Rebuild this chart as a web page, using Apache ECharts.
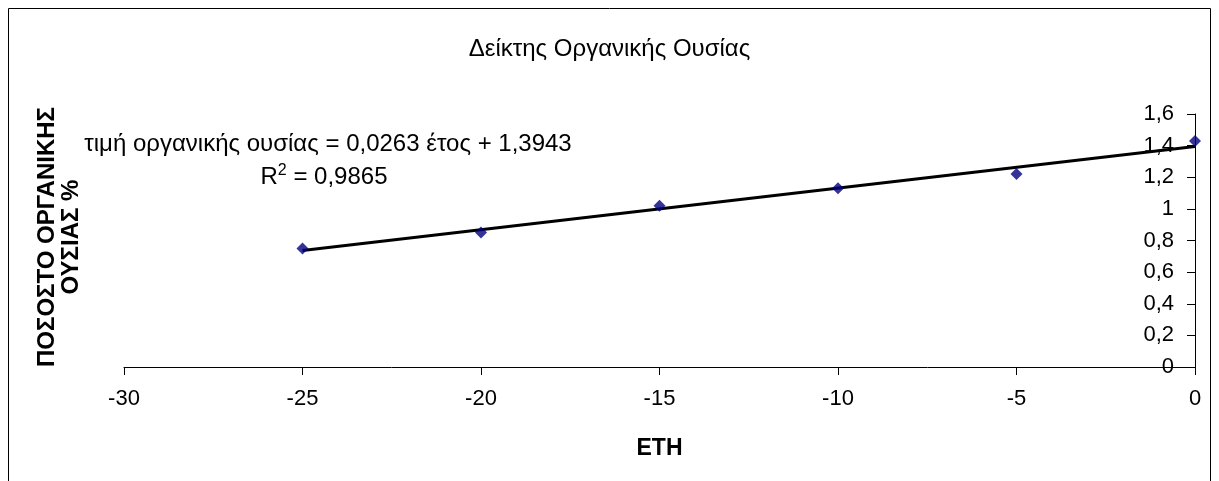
<!DOCTYPE html>
<html>
<head>
<meta charset="utf-8">
<script src="https://cdn.jsdelivr.net/npm/echarts@6/dist/echarts.min.js"></script>
<style>
html,body{margin:0;padding:0;background:#fff;}
#chart{width:1219px;height:481px;}
</style>
</head>
<body>
<div id="chart"></div>
<script>
// ---- data ----
const years = [-25, -20, -15, -10, -5, 0];
const organicValues = [0.75, 0.85, 1.02, 1.13, 1.22, 1.43];
const trendSlope = 0.0263;
const trendIntercept = 1.3943;
const trendRange = [-25, 0];
const titleText = 'Δείκτης Οργανικής Ουσίας';
const xAxisTitle = 'ΕΤΗ';
const yAxisTitleLines = ['ΠΟΣΟΣΤΟ ΟΡΓΑΝΙΚΗΣ', 'ΟΥΣΙΑΣ %'];
const equationText = 'τιμή οργανικής ουσίας = 0,0263 έτος + 1,3943';
const r2Value = '0,9865';

const FONT = '"Liberation Sans", Arial, sans-serif';
const chart = echarts.init(document.getElementById('chart'), null, {renderer: 'canvas'});

const scatterData = years.map((x, i) => [x, organicValues[i]]);
const trendData = trendRange.map(x => [x, trendSlope * x + trendIntercept]);

chart.setOption({
  backgroundColor: '#fff',
  animation: false,
  title: {
    text: titleText,
    left: 'center',
    top: 32,
    textStyle: {fontFamily: FONT, fontSize: 24, fontWeight: 'normal', color: '#000'}
  },
  grid: {left: 124, right: 24, top: 114, bottom: 114},
  xAxis: {
    type: 'value', min: -30, max: 0, interval: 5,
    name: xAxisTitle, nameLocation: 'middle', nameGap: 70,
    nameTextStyle: {fontFamily: FONT, fontSize: 23, fontWeight: 'bold', color: '#000'},
    axisLine: {onZero: false, lineStyle: {color: '#000', width: 1}},
    axisTick: {show: true, length: 8, lineStyle: {color: '#000'}},
    axisLabel: {fontFamily: FONT, fontSize: 22, color: '#000', margin: 21},
    splitLine: {show: false}
  },
  yAxis: {
    type: 'value', position: 'right', min: 0, max: 1.6, interval: 0.2,
    axisLine: {show: true, onZero: false, lineStyle: {color: '#000', width: 1}},
    axisTick: {show: true, inside: true, length: 8, lineStyle: {color: '#000'}},
    axisLabel: {
      inside: true, margin: 21, fontFamily: FONT, fontSize: 22, color: '#000',
      formatter: v => String(+v.toFixed(1)).replace('.', ',')
    },
    splitLine: {show: false}
  },
  series: [
    {
      type: 'line', data: trendData, symbol: 'none', z: 3,
      lineStyle: {color: '#000', width: 3}
    },
    {
      type: 'scatter', data: scatterData, symbol: 'diamond', symbolSize: 12, z: 4,
      itemStyle: {color: '#000080'}
    }
  ],
  graphic: [
    {
      type: 'rect', shape: {x: 8.5, y: 8.5, width: 1202, height: 520},
      style: {fill: 'none', stroke: '#000', lineWidth: 1}, silent: true
    },
    {
      type: 'text', x: 328, y: 144,
      style: {text: equationText, font: '24px ' + FONT, fill: '#000', textAlign: 'center', textVerticalAlign: 'middle'}
    },
    {
      type: 'text', x: 324, y: 176,
      style: {
        text: '{b|R}{s|2}{b| = ' + r2Value + '}',
        textAlign: 'center', textVerticalAlign: 'middle',
        rich: {
          b: {font: '24px ' + FONT, fill: '#000', verticalAlign: 'bottom'},
          s: {font: '16px ' + FONT, fill: '#000', verticalAlign: 'top', padding: [0, 0, 10, 0]}
        }
      }
    },
    {
      type: 'text', x: 47, y: 237, rotation: Math.PI / 2,
      style: {text: yAxisTitleLines[0], font: 'bold 24px ' + FONT, fill: '#000', textAlign: 'center', textVerticalAlign: 'middle'}
    },
    {
      type: 'text', x: 71, y: 237, rotation: Math.PI / 2,
      style: {text: yAxisTitleLines[1], font: 'bold 24px ' + FONT, fill: '#000', textAlign: 'center', textVerticalAlign: 'middle'}
    }
  ]
});
</script>
</body>
</html>
